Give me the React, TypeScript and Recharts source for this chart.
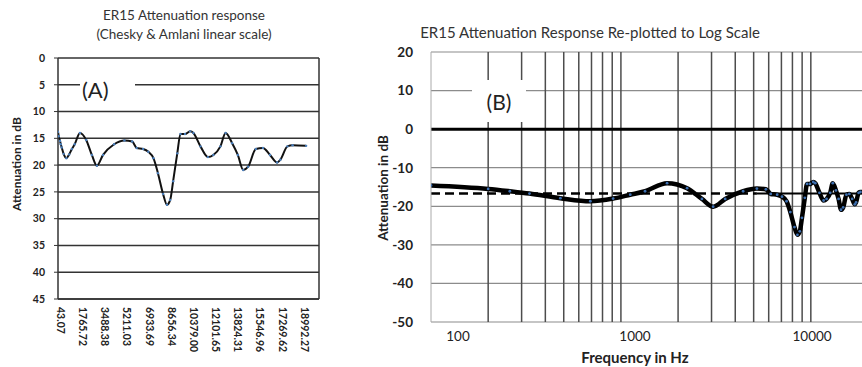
import React from 'react'
import { LineChart, Line, XAxis, YAxis, CartesianGrid, ReferenceLine } from 'recharts'

const freqHz = [
  43.07, 100, 200, 260, 330, 480, 690, 910, 1120, 1340, 1750, 2230, 2670, 3060, 3540, 4400,
  5200, 5800, 6150, 6650, 7050, 7450, 7800, 8200, 8500, 8750, 8980, 9300, 9550, 9900, 10300,
  10550, 11100, 11680, 12100, 12650, 13050, 13560, 14000, 14420, 14800, 15400, 15950, 16500,
  17050, 17300, 17850, 18250, 19300,
]
const attenuationDb = [
  13.8, 14.6, 15.5, 16.1, 16.7, 17.9, 18.7, 18.0, 17.0, 16.1, 14.0, 15.3, 18.1, 20.1, 18.1, 16.1,
  15.4, 15.6, 16.8, 17.0, 17.5, 18.7, 21.5, 25.4, 27.4, 26.5, 23.0, 17.8, 14.2, 14.2, 13.7,
  14.0, 16.5, 18.5, 18.1, 16.5, 14.0, 15.9, 18.1, 20.9, 20.3, 17.0, 16.8, 18.1,
  19.5, 19.0, 16.5, 16.3, 16.4,
]

// panel A axes
const linearTicks = [
  43.07, 1765.72, 3488.38, 5211.03, 6933.69, 8656.34, 10379.0, 12101.65, 13824.31, 15546.96,
  17269.62, 18992.27,
]
const topTicks = [2000, 4000, 6000, 8000, 10000, 12000, 14000, 16000, 18000]
const attTicks = [0, 5, 10, 15, 20, 25, 30, 35, 40, 45]

// panel B axes
const logGridTicks = [200, 300, 400, 500, 600, 700, 800, 900, 1000, 2000, 3000, 4000, 5000, 6000, 7000, 8000, 9000, 10000]
const logLabelTicks = [100, 1000, 10000]
const dbTicks = [20, 10, 0, -10, -20, -30, -40, -50]
const refLevelDb = -16.7
const refDashEndHz = 5200

const linearData = freqHz.map((f, i) => ({ f, att: attenuationDb[i] }))
const logData = linearData.filter((d) => d.f >= 100).map((d) => ({ f: d.f, db: -d.att }))

const ink = '#222'

const RotatedTick = (props: any) => {
  const { x, y, payload } = props
  return (
    <text
      transform={`translate(${x},${y}) rotate(90)`}
      dy="0.12em"
      textAnchor="start"
      fontSize={10.5}
      fontWeight={700}
      fontFamily="Lato"
      fill={ink}
    >
      {Number(payload.value).toFixed(2)}
    </text>
  )
}

const TinyTick = (props: any) => {
  const { x, y, payload } = props
  return (
    <text x={x} y={y + 6} textAnchor="middle" fontSize={3.5} fill="#666" fontFamily="Lato">
      {payload.value}
    </text>
  )
}

const NoTick = () => <g />

const abs = (extra: React.CSSProperties): React.CSSProperties => ({ position: 'absolute', ...extra })
const rotated = (cx: number, cy: number, size: number): React.CSSProperties => ({
  position: 'absolute',
  left: cx,
  top: cy,
  transform: 'translate(-50%,-50%) rotate(-90deg)',
  whiteSpace: 'nowrap',
  fontSize: size,
  fontWeight: 700,
  color: ink,
})

export default function App() {
  return (
    <div
      style={{
        position: 'fixed',
        left: 0,
        top: 0,
        width: 862,
        height: 367,
        overflow: 'hidden',
        background: '#fff',
        fontFamily: 'Lato, sans-serif',
      }}
    >
      {/* (A) linear */}
      <div style={abs({ left: 0, top: 0 })}>
        <LineChart width={330} height={367} data={linearData} margin={{ top: 58, right: 11, bottom: 8, left: 0 }}>
          <CartesianGrid vertical={false} stroke="#333" strokeWidth={1.5} />
          <XAxis
            dataKey="f"
            type="number"
            domain={[43.07, 20300]}
            ticks={linearTicks}
            interval={0}
            height={60}
            tick={<RotatedTick />}
            tickSize={0}
            tickMargin={8}
            tickLine={false}
            axisLine={{ stroke: '#333', strokeWidth: 1.5 }}
            allowDataOverflow
          />
          <XAxis
            xAxisId="top"
            orientation="top"
            dataKey="f"
            type="number"
            domain={[43.07, 20300]}
            ticks={topTicks}
            interval={0}
            height={0}
            tick={<TinyTick />}
            tickSize={0}
            tickMargin={0}
            tickLine={false}
            axisLine={false}
            allowDataOverflow
          />
          <YAxis
            type="number"
            domain={[0, 45]}
            reversed
            ticks={attTicks}
            interval={0}
            width={58}
            tick={{ fontSize: 10.5, fontWeight: 700, fill: ink, fontFamily: 'Lato' }}
            tickSize={4}
            tickMargin={9}
            tickLine={{ stroke: '#333' }}
            axisLine={{ stroke: '#333', strokeWidth: 1.5 }}
          />
          <ReferenceLine x={20300} stroke="#333" strokeWidth={1.5} />
          <Line
            dataKey="att"
            type="monotone"
            stroke="#111"
            strokeWidth={2}
            dot={{ r: 1.2, fill: '#4a7ebb', stroke: 'none' }}
            isAnimationActive={false}
          />
        </LineChart>
      </div>
      <div style={abs({ left: 84, top: 6, width: 200, textAlign: 'center', fontSize: 13.5, color: '#333', lineHeight: '19px' })}>
        ER15 Attenuation response
        <br />
        (Chesky &amp; Amlani linear scale)
      </div>
      <div style={abs({ left: 80, top: 77, width: 55, height: 26, background: '#fff', fontSize: 22, lineHeight: '26px', color: ink })}>
        <span style={{ marginLeft: 2 }}>(A)</span>
      </div>
      <div style={rotated(16, 164, 12)}>Attenuation in dB</div>

      {/* (B) log */}
      <div style={abs({ left: 371, top: 0 })}>
        <LineChart width={500} height={367} data={logData} margin={{ top: 52, right: 3, bottom: 0, left: 0 }}>
          <CartesianGrid vertical={false} stroke="#8c8c8c" strokeWidth={1.2} />
          <CartesianGrid horizontal={false} verticalValues={logGridTicks} stroke="#4d4d4d" strokeWidth={1.5} />
          <XAxis
            dataKey="f"
            type="number"
            scale="log"
            domain={[100, 20000]}
            ticks={logGridTicks}
            interval={0}
            height={0}
            tick={<NoTick />}
            tickSize={0}
            tickLine={false}
            axisLine={false}
            allowDataOverflow
          />
          <XAxis
            xAxisId="lab"
            dataKey="f"
            type="number"
            scale="log"
            domain={[70.4, 20700]}
            ticks={logLabelTicks}
            interval={0}
            height={45}
            tickSize={0}
            tickMargin={9}
            tickLine={false}
            axisLine={false}
            tick={{ fontSize: 13.5, fill: ink, fontFamily: 'Lato' }}
            allowDataOverflow
          />
          <YAxis
            type="number"
            domain={[-50, 20]}
            ticks={dbTicks}
            interval={0}
            width={60}
            tick={{ fontSize: 13.5, fontWeight: 700, fill: ink, fontFamily: 'Lato' }}
            tickSize={0}
            tickMargin={18}
            tickLine={false}
            axisLine={{ stroke: '#aaa' }}
          />
          <ReferenceLine y={0} stroke="#000" strokeWidth={3} />
          <ReferenceLine
            segment={[{ x: 100, y: refLevelDb }, { x: refDashEndHz, y: refLevelDb }]}
            stroke="#000"
            strokeWidth={2.5}
            strokeDasharray="9 5"
          />
          <ReferenceLine
            segment={[{ x: refDashEndHz, y: refLevelDb }, { x: 20000, y: refLevelDb }]}
            stroke="#000"
            strokeWidth={2}
          />
          <Line
            dataKey="db"
            type="monotone"
            stroke="#000"
            strokeWidth={4.5}
            dot={{ r: 1.4, fill: '#3d6fb0', stroke: 'none' }}
            isAnimationActive={false}
          />
        </LineChart>
      </div>
      <div style={abs({ left: 390, top: 22, width: 400, textAlign: 'center', fontSize: 15, color: '#333', lineHeight: '20px' })}>
        ER15 Attenuation Response Re-plotted to Log Scale
      </div>
      <div
        style={abs({ left: 472, top: 80, width: 54, height: 42, background: '#fff', fontSize: 21, lineHeight: '44px', textAlign: 'center', color: ink })}
      >
        (B)
      </div>
      <div style={rotated(383, 188, 13.5)}>Attenuation in dB</div>
      <div style={abs({ left: 535, top: 348, width: 200, textAlign: 'center', fontSize: 15, fontWeight: 700, color: ink, lineHeight: '19px' })}>
        Frequency in Hz
      </div>
    </div>
  )
}
